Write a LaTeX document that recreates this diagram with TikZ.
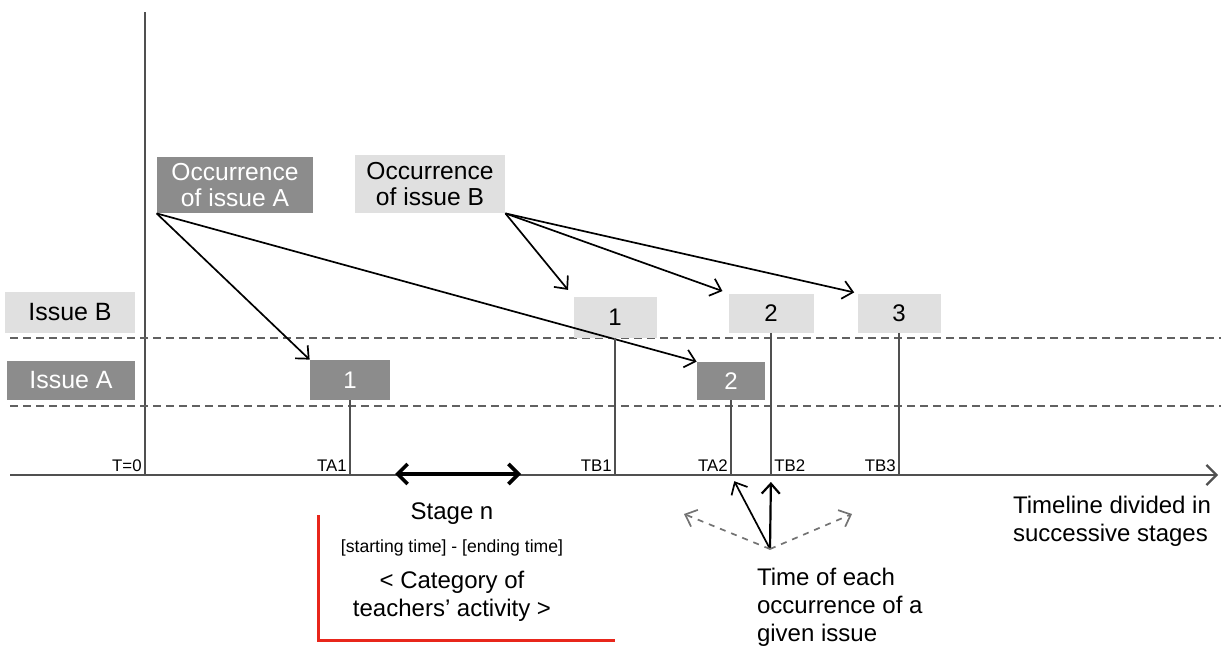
\documentclass[tikz,border=0pt]{standalone}
\usepackage{fontspec}
\setmainfont{Liberation Sans}
\usetikzlibrary{arrows.meta,positioning}

\definecolor{darkbox}{HTML}{8C8C8C}
\definecolor{lightbox}{HTML}{E0E0E0}
\definecolor{axisgray}{HTML}{505050}
\definecolor{markred}{HTML}{E8261B}

\tikzstyle {darkblock} = [fill=darkbox, text=white, inner sep=0pt, align=center]
\tikzstyle {lightblock} = [fill=lightbox, text=black, inner sep=0pt, align=center]
\tikzstyle {axis} = [draw=axisgray, line width=1.1pt]
\tikzstyle {level} = [draw=axisgray!90, line width=1.4pt, dash pattern=on 4pt off 2.5pt]
\tikzstyle {stem} = [draw=axisgray, line width=0.9pt]
\tikzstyle {tick} = [font=\fontsize{8.4}{10}\selectfont, inner sep=1.5pt]
\tikzstyle {occ} = [draw=black, line width=0.85pt, -{Straight Barb[length=5pt,width=9pt]}]

\begin{document}
\begin{tikzpicture}[x=0.5pt, y=-0.5pt, font=\fontsize{12}{14}\selectfont]
\useasboundingbox (0,0) rectangle (1221,647);
% axes and levels
\coordinate (tl) at (10,475);
\coordinate (tr) at (1218,475);
\coordinate (t0) at (145,475);
\coordinate (top) at (145,12);
\draw [axis] (t0) -- (top);
\draw [axis, -{Straight Barb[length=5pt,width=10pt]}] (tl) -- (tr);
\draw [level] (10,338) -- (1221,338);
\draw [level] (10,406) -- (1221,406);

% issue labels
\node [lightblock, minimum width=65pt, minimum height=20.5pt, font=\fontsize{12.5}{14}\selectfont] (issueB) at (70,312) {Issue B};
\node [darkblock, minimum width=64pt, minimum height=19.5pt, font=\fontsize{12.5}{14}\selectfont] (issueA) at (71,380) {Issue A};
\node [darkblock, minimum width=78pt, minimum height=28pt, font=\fontsize{12.3}{13.2}\selectfont] (occA) at (235,185) {Occurrence\\of issue A};
\node [lightblock, minimum width=75pt, minimum height=29pt, font=\fontsize{12.3}{13.2}\selectfont] (occB) at (430,184) {Occurrence\\of issue B};

% occurrences
\node [darkblock, minimum width=40pt, minimum height=20pt] (a1) at (350,380) {1};
\node [darkblock, minimum width=34pt, minimum height=19pt] (a2) at (731,381) {2};
\node [lightblock, minimum width=41.5pt, minimum height=20.5pt] (b1) at (615,317) {1};
\node [lightblock, minimum width=42.5pt, minimum height=19.5pt] (b2) at (771,313) {2};
\node [lightblock, minimum width=41.5pt, minimum height=19.5pt] (b3) at (899,313) {3};

\draw [occ] (occA.south west) -- (a1.north west);
\draw [occ] (occA.south west) -- (a2.north west);
\draw [occ, shorten >=4pt] (occB.south east) -- (b1.north west);
\draw [occ, shorten >=3pt] (occB.south east) -- (b2.north west);
\draw [occ, shorten >=1.5pt] (occB.south east) -- (b3.north west);

% stems down to the timeline
\draw [stem] (a1.south) -- (a1.south |- tl);
\draw [stem] (a2.south) -- (a2.south |- tl);
\draw [stem] (b1.south) -- (b1.south |- tl);
\draw [stem] (b2.south) -- (b2.south |- tl);
\draw [stem] (b3.south) -- (b3.south |- tl);

\node [tick, above left] (t0lab) at (t0) {T=0};
\node [tick, above left] (ta1lab) at (a1.south |- tl) {TA1};
\node [tick, above left] (tb1lab) at (b1.south |- tl) {TB1};
\node [tick, above left] (ta2lab) at (a2.south |- tl) {TA2};
\node [tick, above right] (tb2lab) at (b2.south |- tl) {TB2};
\node [tick, above left] (tb3lab) at (b3.south |- tl) {TB3};

% stage
\coordinate (sl) at (395,474);
\coordinate (sr) at (521,474);
\draw [line width=1.8pt, {Straight Barb[length=5pt,width=10pt]}-{Straight Barb[length=5pt,width=10pt]}] (sl) -- (sr);
\node (stage) at (452,514) {Stage n};
\node [font=\fontsize{8.8}{10}\selectfont] (span) at (452,548) {[starting time] - [ending time]};
\node [align=center] (cat) at (452,596) {< Category of\\teachers’ activity >};
\draw [markred, line width=1.5pt] (318,515) |- (615,640);

% time of each occurrence
\coordinate (hub) at (770,549);
\coordinate (dl) at (684,514);
\coordinate (dr) at (852,514);
\draw [occ, shorten >=3.5pt] (hub) -- (a2.south |- tl);
\draw [occ, line width=1.1pt, shorten >=3.5pt] (hub) -- (b2.south |- tl);
\draw [occ, draw=axisgray!80, dashed] (hub) -- (dl);
\draw [occ, draw=axisgray!80, dashed] (hub) -- (dr);
\node [anchor=north west, align=left] (when) at (750,561) {Time of each\\occurrence of a\\given issue};
\node [anchor=west, align=left] (tlnote) at (1006,521) {Timeline divided in\\successive stages};
\end{tikzpicture}
\end{document}
